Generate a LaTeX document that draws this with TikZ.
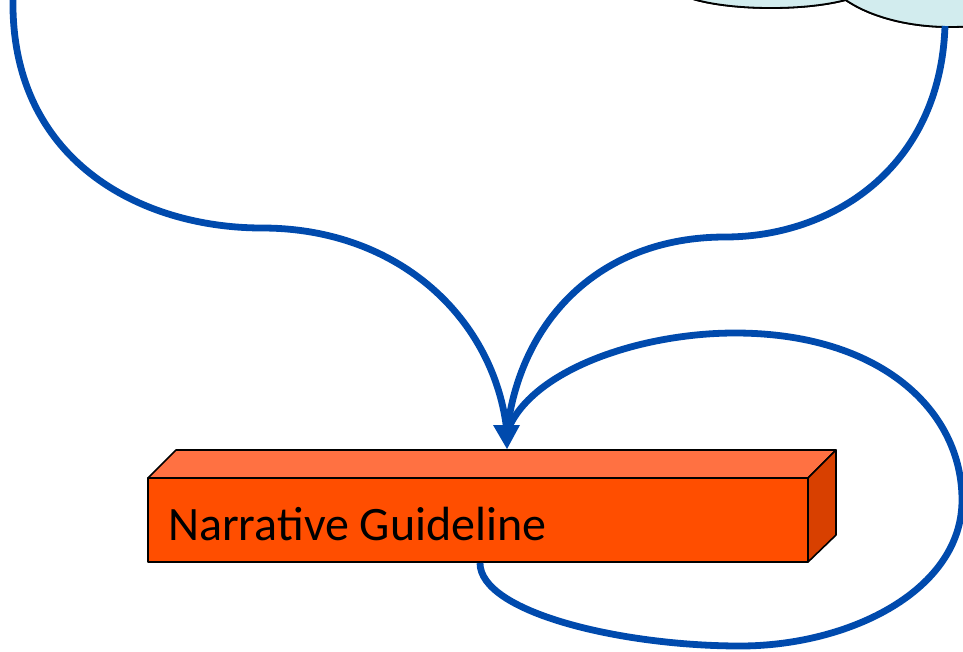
\documentclass[tikz,border=0pt]{standalone}
\usepackage{fontspec}
\setmainfont{Carlito}
\usetikzlibrary{arrows.meta}
\definecolor{flowblue}{RGB}{0,74,173}
\definecolor{cloudfill}{RGB}{210,236,238}
\definecolor{boxfront}{RGB}{255,78,0}
\definecolor{boxtop}{RGB}{255,113,66}
\definecolor{boxside}{RGB}{216,64,0}
\tikzset{
  flow/.style={draw=flowblue, line width=6.8pt},
  face/.style={draw=black, line width=1.6pt, line join=round},
  cloudlobe/.style={fill=cloudfill, draw=black, line width=1.8pt},
}
\begin{document}
\begin{tikzpicture}[x=1pt,y=-1pt]
\useasboundingbox (0,0) rectangle (963,651);
\begin{scope}
  \clip (0,0) rectangle (963,651);
  % cloud lobes along the top edge
  \fill[cloudlobe] (771,-16) ellipse [x radius=100, y radius=24];
  \fill[cloudlobe] (950,-40) ellipse [x radius=130, y radius=67];
  \draw[cloudlobe] (771,-16) ellipse [x radius=100, y radius=24];
  \draw[cloudlobe] (950,-40) ellipse [x radius=130, y radius=67];

  \coordinate (leftsrc) at (13,-2);
  \coordinate (rightsrc) at (945,26);
  \coordinate (join) at (507,432);

  % the box: top, side and front faces
  \coordinate (fa) at (148,478);
  \coordinate (fb) at (808,478);
  \coordinate (fc) at (808,562);
  \coordinate (fd) at (148,562);
  \filldraw[face, fill=boxtop] (fa) -- (176,450) -- (836,450) -- (fb) -- cycle;
  \filldraw[face, fill=boxside] (fb) -- (836,450) -- (836,535) -- (fc) -- cycle;
  \filldraw[face, fill=boxfront] (fa) rectangle (fc);
  \node[anchor=base west, inner sep=0pt, font=\fontsize{48}{52}\selectfont] (label) at (168,540) {Narrative Guideline};
  \coordinate (boxtopmid) at (507,449);
  \coordinate (boxbottom) at (480,563);

  % flows into the box
  \draw[flow] (leftsrc) .. controls (10,160) and (140,228) .. (262,228)
     .. controls (400,228) and (495,320) .. (join);
  \draw[flow] (rightsrc) .. controls (940,170) and (830,237) .. (725,237)
     .. controls (600,237) and (520,320) .. (join);
  % feedback loop from the bottom of the box
  \draw[flow] (boxbottom) .. controls (480,612) and (620,646) .. (740,646)
     .. controls (850,646) and (962,590) .. (962,500)
     .. controls (962,410) and (880,333) .. (735,333)
     .. controls (640,333) and (530,370) .. (join);
  \fill[flowblue] (boxtopmid) -- (493,425) -- (520,425) -- cycle;
\end{scope}
\end{tikzpicture}
\end{document}
